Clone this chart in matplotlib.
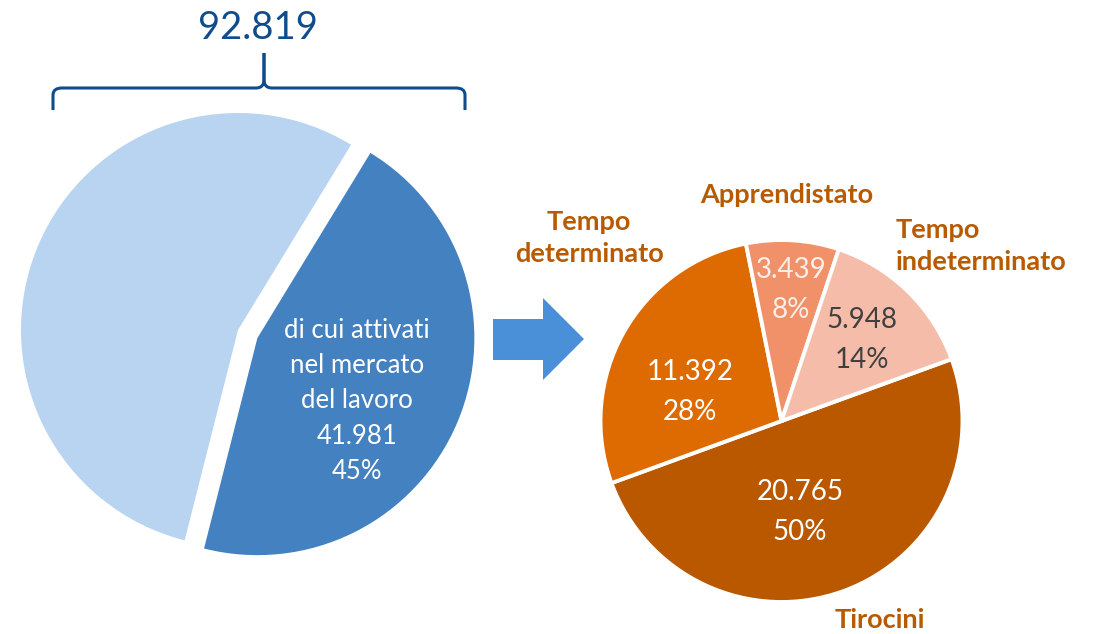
import numpy as np
import matplotlib
matplotlib.use("Agg")
import matplotlib.pyplot as plt
from matplotlib.path import Path
from matplotlib.patches import PathPatch, Polygon

plt.rcParams['font.family'] = ['Lato', 'DejaVu Sans']

# data
totale = 92819
attivati = 41981
left_vals = [attivati, totale - attivati]
left_text = "di cui attivati\nnel mercato\ndel lavoro\n41.981\n45%"

cat_names = ["Tirocini", "Tempo\ndeterminato", "Apprendistato", "Tempo\nindeterminato"]
cat_vals = [20765, 11392, 3439, 5948]
cat_num = ["20.765", "11.392", "3.439", "5.948"]
cat_pct = ["50%", "28%", "8%", "14%"]

W, H = 1095, 634
def Y(y):
    # image row -> data y
    return H - y

fig = plt.figure(figsize=(W / 100, H / 100), dpi=100)
ax = fig.add_axes([0, 0, 1, 1])

blue_dark = "#4381C1"
blue_light = "#B9D4F0"
navy = "#0F4C8D"
orange_txt = "#B85A00"

# left pie (explode is in data units here, i.e. pixels)
ax.pie(left_vals, center=(238, Y(330)), radius=217, startangle=58.6,
       counterclock=False, colors=[blue_dark, blue_light],
       explode=[21, 0], wedgeprops=dict(linewidth=0))
ax.text(357, Y(401), left_text, ha="center", va="center", color="white",
        fontsize=18.5, linespacing=1.52)

# brace + total
lw = 2.2
for end in (53, 465):
    s = 1 if end < 264 else -1
    verts = [(end, 110), (end, 95), (end, 88), (end + s * 9, 88),
             (264 - s * 8, 88), (264, 88), (264, 80), (264, 53)]
    codes = [Path.MOVETO, Path.LINETO, Path.CURVE3, Path.CURVE3,
             Path.LINETO, Path.CURVE3, Path.CURVE3, Path.LINETO]
    pts = [(x, Y(y)) for x, y in verts]
    ax.add_patch(PathPatch(Path(pts, codes), fill=False, edgecolor=navy, lw=lw, capstyle="butt"))
ax.text(258, Y(28), "92.819", ha="center", va="center", color=navy, fontsize=27.5)

# arrow
arrow_pts = [(493, 319), (543, 319), (543, 298), (584, 339), (543, 380), (543, 360), (493, 360)]
ax.add_patch(Polygon([(x, Y(y)) for x, y in arrow_pts], closed=True,
                     facecolor="#4A90D9", edgecolor="none"))

# right pie
ax.pie(cat_vals, center=(781.5, Y(421)), radius=181, startangle=20,
       counterclock=False, colors=["#BA5800", "#DE6A02", "#F0916A", "#F5BDA9"],
       wedgeprops=dict(edgecolor="white", linewidth=2.8))

num_pos = [(800, 512), (690, 392), (791, 290), (862, 340)]
num_col = ["white", "white", "#FBEFE8", "#404040"]
for (x, y), n, p, c in zip(num_pos, cat_num, cat_pct, num_col):
    ax.text(x, Y(y), n + "\n" + p, ha="center", va="center", color=c,
            fontsize=20, linespacing=1.67)

lab_pos = [(880, 620, "center"), (589, 238, "center"), (787, 195, "center"), (896, 246, "left")]
for (x, y, ha), name in zip(lab_pos, cat_names):
    ax.text(x, Y(y), name, ha=ha, va="center", color=orange_txt,
            fontsize=19.5, fontweight="bold", linespacing=1.38)

ax.set_xlim(0, W)
ax.set_ylim(0, H)
ax.set_aspect("equal")
ax.axis("off")

fig.savefig("out.png", dpi=100)
